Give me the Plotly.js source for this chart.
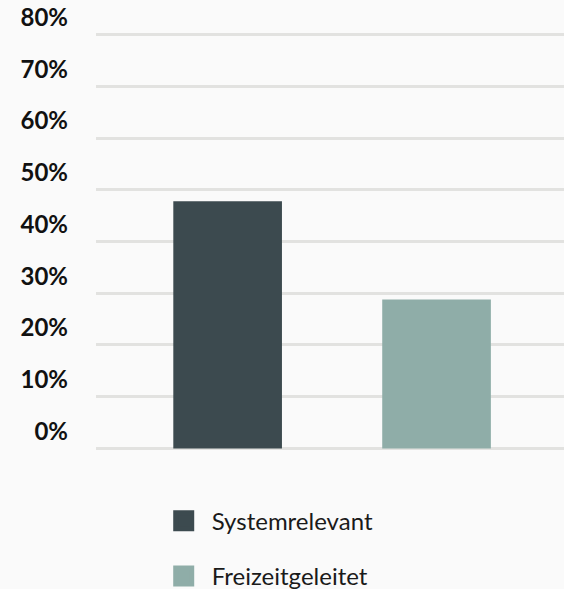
<!DOCTYPE html>
<html>
<head>
<meta charset="utf-8">
<script src="https://cdn.plot.ly/plotly-3.0.1.min.js"></script>
<style>html,body{margin:0;padding:0;background:#fafafa;}#chart{width:564px;height:589px;}</style>
</head>
<body>
<div id="chart"></div>
<script>
const categories = ["Systemrelevant", "Freizeitgeleitet"];
const values = [47.8, 28.8];
const colors = ["#3c4a4f", "#8fada8"];
const tickValues = [0, 10, 20, 30, 40, 50, 60, 70, 80];
const tickLabels = ["0%", "10%", "20%", "30%", "40%", "50%", "60%", "70%", "80%"];

const traces = [];
categories.forEach((c, i) => {
  traces.push({
    type: "bar", x: [c], y: [values[i]], marker: {color: colors[i]},
    showlegend: false, hoverinfo: "skip"
  });
});
categories.forEach((c, i) => {
  traces.push({
    type: "scatter", mode: "markers", x: [null], y: [null], name: c,
    legendgroup: "g" + i,
    marker: {symbol: "square", size: 16, color: colors[i], line: {color: colors[i], width: 5}}
  });
});

const layout = {
  width: 564, height: 589,
  margin: {l: 96, r: 0, t: 31.9, b: 138.4, autoexpand: false},
  paper_bgcolor: "#fafafa", plot_bgcolor: "rgba(0,0,0,0)",
  barmode: "overlay",
  bargap: 0.48,
  xaxis: {
    type: "category", categoryarray: categories, range: [-0.63, 1.61],
    showticklabels: false, showgrid: false, zeroline: false, fixedrange: true
  },
  yaxis: {
    range: [-0.5, 80.5], tickvals: tickValues, ticktext: tickLabels,
    showgrid: true, gridcolor: "#e2e2e0", gridwidth: 3, zeroline: false,
    ticks: "", ticklabelstandoff: 27, ticklabelshift: -17,
    tickfont: {family: "Lato, sans-serif", size: 24, color: "#111111", weight: "bold"}
  },
  showlegend: true,
  legend: {
    orientation: "v", x: 0.1276, xanchor: "left", y: -0.114, yanchor: "top",
    traceorder: "grouped", tracegroupgap: 21, itemsizing: "trace", itemwidth: 46,
    font: {family: "Lato, sans-serif", size: 24, color: "#1a1a1a"},
    bgcolor: "rgba(0,0,0,0)"
  }
};

Plotly.newPlot("chart", traces, layout, {displayModeBar: false, staticPlot: true});
</script>
</body>
</html>
